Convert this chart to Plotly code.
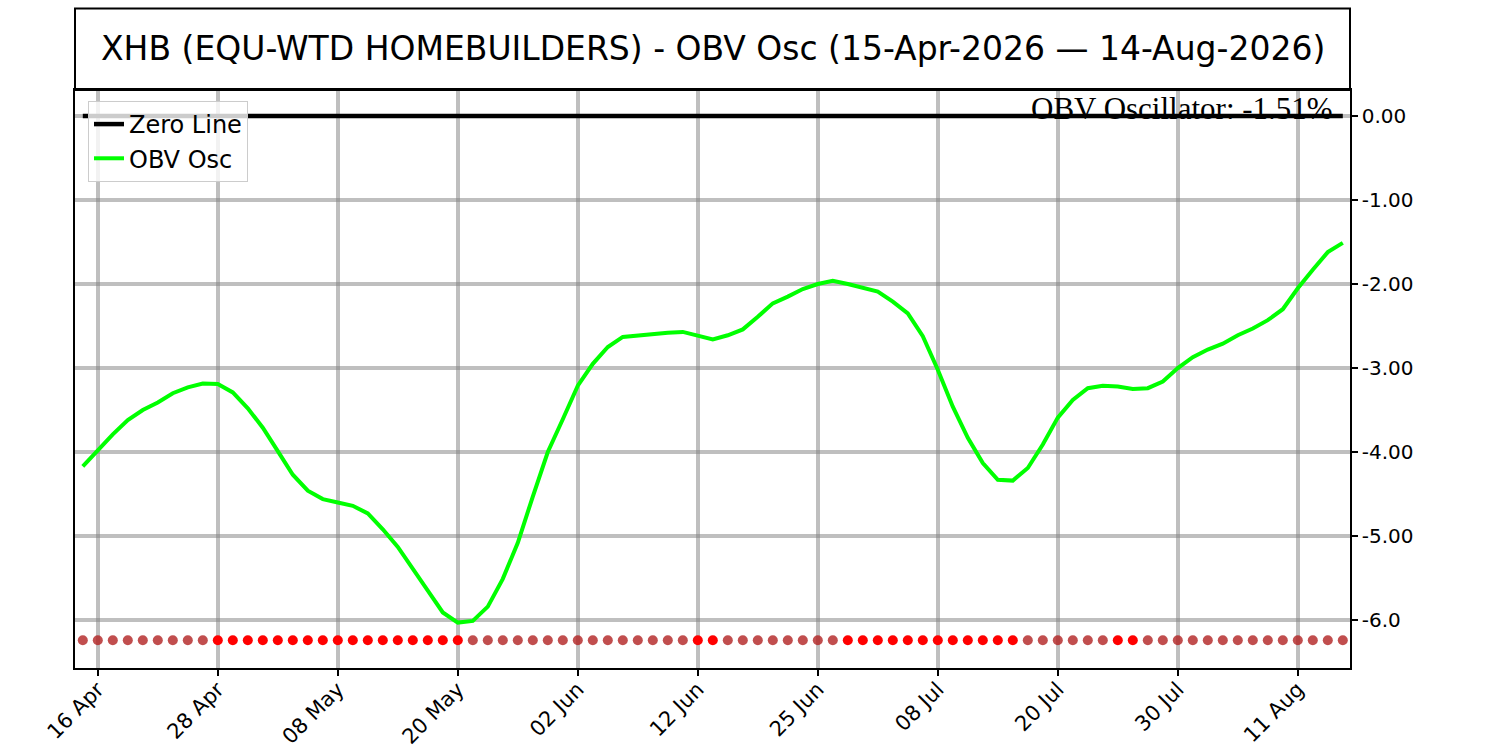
"""
XHB OBV Oscillator — trend-direction dots along the bottom
"""
import pandas as pd
import plotly.graph_objects as go

SYMBOL = "XHB"
NAME = "EQU-WTD HOMEBUILDERS"

# trading days, US market holidays removed
HOLIDAYS = ["2026-05-25", "2026-06-19", "2026-07-03"]
dates = pd.bdate_range("2026-04-15", "2026-08-14", freq="C", holidays=HOLIDAYS)
x_labels = list(dates.strftime("%Y-%m-%d"))

obv_osc = [
    -4.17, -3.98, -3.79, -3.62, -3.50, -3.41, -3.30, -3.23, -3.185, -3.19,
    -3.29, -3.48, -3.71, -3.99, -4.27, -4.46, -4.56, -4.60, -4.64, -4.73,
    -4.92, -5.13, -5.38, -5.65, -5.91, -6.03, -6.01, -5.84, -5.51, -5.08,
    -4.53, -4.00, -3.61, -3.21, -2.95, -2.75, -2.63, -2.61, -2.59, -2.58,
    -2.57, -2.62, -2.66, -2.61, -2.54, -2.39, -2.23, -2.15, -2.06, -2.00,
    -1.96, -2.00, -2.04, -2.09, -2.21, -2.35, -2.62, -3.02, -3.46, -3.83,
    -4.13, -4.33, -4.34, -4.19, -3.91, -3.59, -3.38, -3.24, -3.21, -3.22,
    -3.25, -3.24, -3.16, -3.00, -2.87, -2.78, -2.71, -2.61, -2.53, -2.43,
    -2.30, -2.05, -1.83, -1.62, -1.51,
]

TICK_DATES = ["2026-04-16", "2026-04-28", "2026-05-08", "2026-05-20", "2026-06-02",
              "2026-06-12", "2026-06-25", "2026-07-08", "2026-07-20", "2026-07-30",
              "2026-08-11"]
TICK_LABELS = ["16 Apr", "28 Apr", "08 May", "20 May", "02 Jun", "12 Jun",
               "25 Jun", "08 Jul", "20 Jul", "30 Jul", "11 Aug"]
Y_TICKS = [0, -1, -2, -3, -4, -5, -6]
Y_LABELS = ["0.00", "-1.00", "-2.00", "-3.00", "-4.00", "-5.00", "-6.0"]

SIGNAL_LEVEL = min(obv_osc) - 0.21

# red when the oscillator falls, dull red when it rises
dot_colors = ["rgba(178,34,34,0.8)"]
for prev, cur in zip(obv_osc[:-1], obv_osc[1:]):
    dot_colors.append("#ff0000" if cur < prev else "rgba(178,34,34,0.8)")

fig = go.Figure()

# Direction dots
fig.add_trace(go.Scatter(
    x=x_labels, y=[SIGNAL_LEVEL] * len(x_labels), mode="markers",
    marker=dict(color=dot_colors, size=10, line=dict(width=0)),
    showlegend=False, hoverinfo="skip",
))

# Zero line
fig.add_trace(go.Scatter(
    x=x_labels, y=[0] * len(x_labels), mode="lines",
    name="Zero Line", line=dict(color="black", width=4.5),
))

# OBV oscillator
fig.add_trace(go.Scatter(
    x=x_labels, y=obv_osc, mode="lines",
    name="OBV Osc", line=dict(color="#00ff00", width=4),
))

# title in a box above the plot
fig.add_shape(type="rect", xref="paper", yref="paper",
              x0=0, x1=1, y0=1, y1=1.141, line=dict(color="black", width=2))
fig.add_annotation(
    text=f"{SYMBOL} ({NAME}) - OBV Osc (15-Apr-2026 \u2014 14-Aug-2026)",
    xref="paper", yref="paper", x=0.5, y=1.071, xanchor="center", yanchor="middle",
    showarrow=False, font=dict(family="DejaVu Sans", size=33, color="black"),
)

# last value readout
fig.add_annotation(
    text=f"OBV Oscillator: {obv_osc[-1]:.2f}%",
    xref="paper", yref="y", x=0.9882, y=0, xanchor="right", yanchor="bottom",
    yshift=-12, showarrow=False,
    font=dict(family="Liberation Serif", size=31, color="black"),
)

grid = "rgba(128,128,128,0.5)"
fig.update_layout(
    width=1500, height=750,
    margin=dict(l=75, r=150, t=90, b=82),
    paper_bgcolor="white", plot_bgcolor="white",
    font=dict(family="DejaVu Sans", size=20, color="black"),
    showlegend=True,
    legend=dict(
        x=0.0102, y=0.981, xanchor="left", yanchor="top",
        bgcolor="rgba(255,255,255,0.8)", bordercolor="#cccccc", borderwidth=1,
        font=dict(size=24), itemwidth=30, tracegroupgap=0,
    ),
)
fig.update_xaxes(
    type="category", range=[-0.52, 84.48], automargin=False,
    tickmode="array", tickvals=TICK_DATES, ticktext=TICK_LABELS, tickangle=-45,
    tickfont=dict(size=21), ticklabelstandoff=-7,
    ticks="outside", ticklen=6, tickwidth=1.5, tickcolor="black",
    showgrid=True, gridcolor=grid, gridwidth=4,
    showline=True, linecolor="black", linewidth=1.5, mirror=True,
    zeroline=False,
)
fig.update_yaxes(
    side="right", range=[-6.571, 0.31], automargin=False,
    tickmode="array", tickvals=Y_TICKS, ticktext=Y_LABELS,
    ticks="outside", ticklen=6, tickwidth=1.5, tickcolor="black",
    showgrid=True, gridcolor=grid, gridwidth=4,
    showline=True, linecolor="black", linewidth=1.5, mirror=True,
    zeroline=False,
)

# drop the page's default body margin so the figure sits at the window origin
fig.write_html("out.html", config={"displayModeBar": False},
               post_script="document.body.style.margin='0';"
                           "document.body.style.overflow='hidden';")
